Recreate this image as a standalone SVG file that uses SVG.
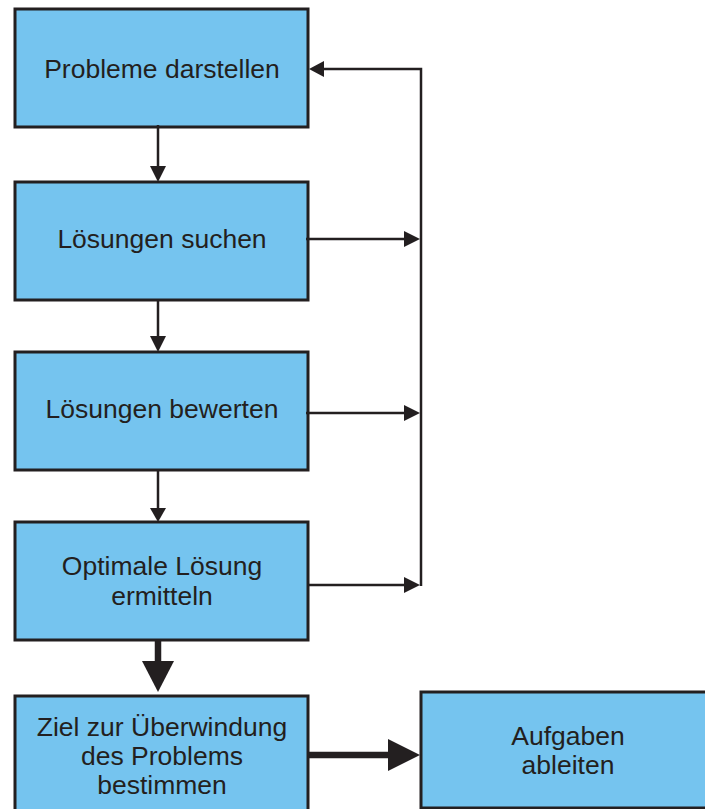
<svg xmlns="http://www.w3.org/2000/svg" width="705" height="809" viewBox="0 0 705 809">
<defs>
<style>
.box{fill:#75C4EF;stroke:#231F20;stroke-width:3}
.t{font-family:"Liberation Sans",Arial,sans-serif;font-size:26.5px;fill:#231F20;text-anchor:middle}
.ln{stroke:#231F20;stroke-width:2.5;fill:none}
.thick{stroke:#231F20;stroke-width:6.5;fill:none}
.head{fill:#231F20}
</style>
</defs>
<rect width="705" height="809" fill="#ffffff"/>
<g id="n1"><rect class="box" x="15" y="9" width="293" height="118"/><text class="t" x="162" y="78">Probleme darstellen</text></g>
<g id="n2"><rect class="box" x="15" y="182" width="293" height="118"/><text class="t" x="162" y="248">Lösungen suchen</text></g>
<g id="n3"><rect class="box" x="15" y="352" width="293" height="118"/><text class="t" x="162" y="418">Lösungen bewerten</text></g>
<g id="n4"><rect class="box" x="15" y="522" width="293" height="118"/><text class="t" x="162" y="575">Optimale Lösung</text><text class="t" x="162" y="605">ermitteln</text></g>
<g id="n5"><rect class="box" x="15" y="696" width="293" height="130"/><text class="t" x="162" y="736">Ziel zur Überwindung</text><text class="t" x="162" y="765">des Problems</text><text class="t" x="162" y="794">bestimmen</text></g>
<g id="n6"><rect class="box" x="421" y="692" width="300" height="116"/><text class="t" x="568" y="745">Aufgaben</text><text class="t" x="568" y="774">ableiten</text></g>
<g id="connectors">
<line class="ln" x1="158" y1="125" x2="158" y2="168"/><polygon class="head" points="150,166 166,166 158,182"/>
<line class="ln" x1="158" y1="300" x2="158" y2="338"/><polygon class="head" points="150,336 166,336 158,352"/>
<line class="ln" x1="158" y1="470" x2="158" y2="510"/><polygon class="head" points="150,508 166,508 158,522"/>
<line class="thick" x1="158" y1="640" x2="158" y2="663"/><polygon class="head" points="142,661 174,661 158,692"/>
<line class="thick" x1="308" y1="755" x2="390" y2="755"/><polygon class="head" points="388,739 388,771 420,755"/>
<line class="ln" x1="306" y1="239" x2="406" y2="239"/><polygon class="head" points="404,231 404,247 420,239"/>
<line class="ln" x1="306" y1="413" x2="406" y2="413"/><polygon class="head" points="404,405 404,421 420,413"/>
<line class="ln" x1="308" y1="585" x2="406" y2="585"/><polygon class="head" points="404,577 404,593 420,585"/>
<polyline class="ln" points="421,586 421,69 322,69"/><polygon class="head" points="324,61 324,77 309,69"/>
</g>
</svg>
